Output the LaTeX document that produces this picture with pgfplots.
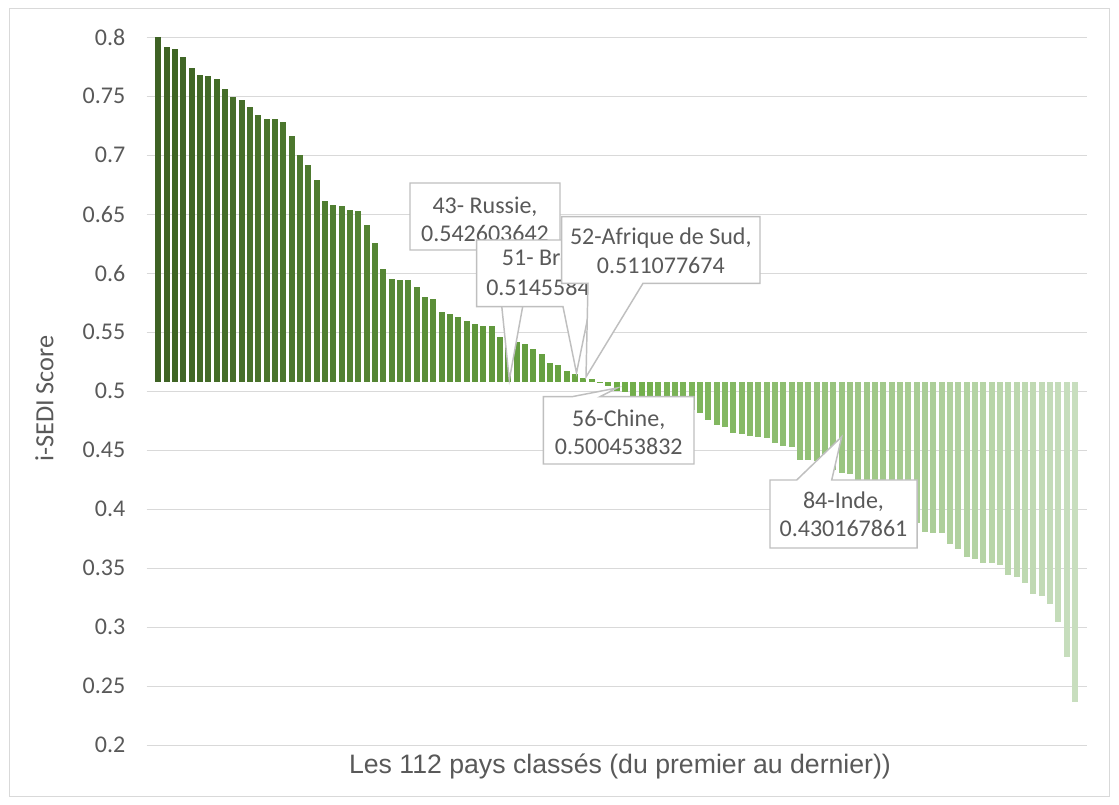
\documentclass[border=0pt]{standalone}
\usepackage{pgfplots}
\pgfplotsset{compat=1.18}
\usepackage{pgfplotstable}
\usepackage{fontspec}
\setmainfont{Carlito}
\newfontfamily\arialfont{Liberation Sans}
\definecolor{cDark}{RGB}{62,98,36}
\definecolor{cMid}{RGB}{110,172,70}
\definecolor{cLight}{RGB}{200,222,190}
\definecolor{txtgray}{RGB}{89,89,89}
\definecolor{gridgray}{RGB}{217,217,217}
\definecolor{boxgray}{RGB}{191,191,191}

\pgfplotstableread{
n v
1 0.800
2 0.792
3 0.790
4 0.783
5 0.774
6 0.768
7 0.767
8 0.765
9 0.756
10 0.749
11 0.747
12 0.741
13 0.734
14 0.731
15 0.731
16 0.728
17 0.716
18 0.700
19 0.692
20 0.679
21 0.661
22 0.658
23 0.657
24 0.654
25 0.653
26 0.641
27 0.626
28 0.604
29 0.595
30 0.594
31 0.594
32 0.588
33 0.580
34 0.578
35 0.567
36 0.5655
37 0.563
38 0.5596
39 0.557
40 0.5553
41 0.5550
42 0.5463
43 0.542603642
44 0.5415
45 0.5400
46 0.5356
47 0.5313
48 0.5237
49 0.5223
50 0.5172
51 0.5145584
52 0.511077674
53 0.5105
54 0.5078
55 0.5045
56 0.500453832
57 0.4997
58 0.4950
59 0.4935
60 0.4920
61 0.4905
62 0.4890
63 0.4875
64 0.4860
65 0.4842
66 0.4813
67 0.4757
68 0.4714
69 0.4700
70 0.4644
71 0.4638
72 0.4621
73 0.4610
74 0.4601
75 0.4562
76 0.4540
77 0.4525
78 0.4420
79 0.4418
80 0.4405
81 0.4370
82 0.4330
83 0.4310
84 0.430167861
85 0.4240
86 0.4190
87 0.4140
88 0.4080
89 0.4020
90 0.3970
91 0.3920
92 0.3881
93 0.3810
94 0.3802
95 0.3797
96 0.3706
97 0.3661
98 0.3593
99 0.3581
100 0.3547
101 0.3547
102 0.3528
103 0.3443
104 0.3429
105 0.3373
106 0.3280
107 0.3265
108 0.3195
109 0.3047
110 0.2751
111 0.2369
}\datatable

\begin{document}
\begin{tikzpicture}
\path[use as bounding box] (0,0) rectangle (839.25pt,603.75pt);
\begin{scope}[x=0.75pt,y=-0.75pt,shift={(0pt,603.75pt)}]
\draw[gridgray, line width=1.1pt] (9.5,8.5) rectangle (1109.5,796.5);
\end{scope}
\begin{axis}[
  at={(110.025pt,44.775pt)}, anchor=south west,
  scale only axis, width=705pt, height=531pt,
  xmin=-0.392, xmax=112.41, ymin=0.2, ymax=0.8,
  y coord trafo/.code={\pgfmathparse{#1-0.5075}},
  y coord inv trafo/.code={\pgfmathparse{#1+0.5075}},
  axis line style={draw=none},
  tick style={draw=none},
  xtick=\empty,
  ytick={0.2,0.25,0.3,0.35,0.4,0.45,0.5,0.55,0.6,0.65,0.7,0.75,0.8},
  yticklabels={0.2,0.25,0.3,0.35,0.4,0.45,0.5,0.55,0.6,0.65,0.7,0.75,0.8},
  yticklabel style={anchor=east, inner sep=0pt, xshift=-15.9pt, text=txtgray, font=\fontsize{18}{20}\selectfont},
  ymajorgrids,
  major grid style={draw=gridgray, line width=1.1pt},
  xlabel={Les 112 pays classés (du premier au dernier))},
  xlabel style={at={(axis description cs:0.5035,-0.0405)}, anchor=base, inner sep=0pt, text=txtgray, font=\arialfont\fontsize{20}{22}\selectfont},
  ylabel={i-SEDI Score},
  ylabel style={at={(axis description cs:-0.1087,0.4898)}, anchor=center, inner sep=0pt, text=txtgray, font=\fontsize{19.7}{22}\selectfont},
]
\pgfplotsforeachungrouped \i in {1,...,111}{%
  \ifnum\i<57
    \pgfmathtruncatemacro\p{round((\i-1)/55*100)}%
    \edef\col{cMid!\p!cDark}%
  \else
    \pgfmathtruncatemacro\p{round((\i-56)/55*100)}%
    \edef\col{cLight!\p!cMid}%
  \fi
  \edef\tmp{\noexpand\addplot[ybar, bar width=0.72, bar shift=0pt, draw=none, fill={\col}, restrict x to domain=\i:\i, forget plot] table[x=n,y=v]{\noexpand\datatable};}%
  \tmp
}
\end{axis}
\begin{scope}[x=0.75pt,y=-0.75pt,shift={(0pt,603.75pt)},
  callout/.style={fill=white, draw=boxgray, line width=1.1pt, line join=miter},
  lab/.style={anchor=base, text=txtgray, font=\fontsize{18}{21}\selectfont, inner sep=0pt}]
% 43 Russie
\draw[callout] (410,183) -- (560,183) -- (560,250) -- (533,250) -- (509.3,380) -- (496,250) -- (410,250) -- cycle;
\node[lab] at (485,213.3) {43- Russie,};
\node[lab] at (485,241.7) {0.542603642};
% 51 Bresil
\draw[callout] (476.7,240) -- (593.3,240) -- (593.3,306.7) -- (590,306.7) -- (576.5,373) -- (563,306.7) -- (476.7,306.7) -- cycle;
\node[lab, anchor=base west] at (501.7,266) {51- Brésil,};
\node[lab, anchor=base west] at (486,296) {0.5145584};
% 52 Afrique du Sud
\draw[callout] (561.7,216.7) -- (760,216.7) -- (760,283.3) -- (643,283.3) -- (586,377) -- (588,283.3) -- (561.7,283.3) -- cycle;
\node[lab] at (660.8,245) {52-Afrique de Sud,};
\node[lab] at (660.8,273.3) {0.511077674};
% 56 Chine
\draw[callout] (543.3,396.7) -- (572,396.7) -- (617,388) -- (600,396.7) -- (694,396.7) -- (694,464) -- (543.3,464) -- cycle;
\node[lab] at (618.7,426.7) {56-Chine,};
\node[lab] at (618.7,455) {0.500453832};
% 84 Inde
\draw[callout] (770,480) -- (796.7,480) -- (841.7,436.7) -- (831.7,480) -- (917,480) -- (917,548) -- (770,548) -- cycle;
\node[lab] at (843.5,508.3) {84-Inde,};
\node[lab] at (843.5,536.7) {0.430167861};
\end{scope}
\end{tikzpicture}
\end{document}
